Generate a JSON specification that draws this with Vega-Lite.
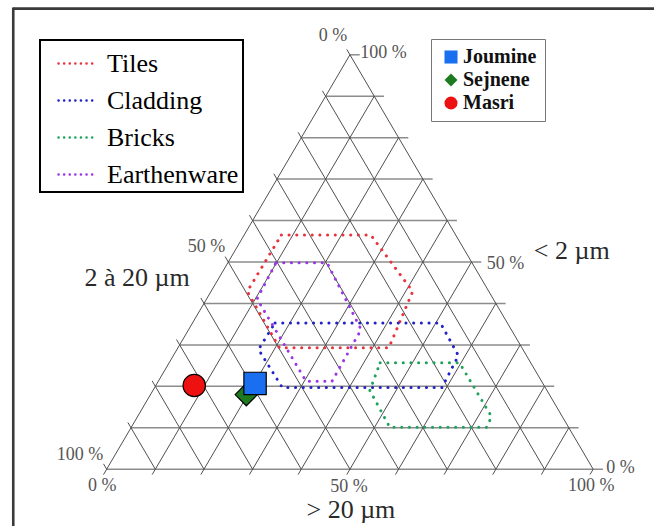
{
  "$schema": "https://vega.github.io/schema/vega-lite/v6.json",
  "width": 656,
  "height": 528,
  "padding": 0,
  "autosize": {"type": "fit", "contains": "padding"},
  "background": "white",
  "config": {"view": {"stroke": null}},
  "datasets": {
    "frame": [
      {"x": -19.2, "y": 111.13, "x2": 112.5, "y2": 111.13},
      {"x": -19.2, "y": 111.4, "x2": -19.2, "y2": -13.7}
    ],
    "grid": [
      {"fam": "h", "x": 0, "y": 0, "x2": 102, "y2": 0},
      {"fam": "h", "x": 5, "y": 10, "x2": 97, "y2": 10},
      {"fam": "h", "x": 10, "y": 20, "x2": 92, "y2": 20},
      {"fam": "h", "x": 15, "y": 30, "x2": 87, "y2": 30},
      {"fam": "h", "x": 20, "y": 40, "x2": 82, "y2": 40},
      {"fam": "h", "x": 25, "y": 50, "x2": 77, "y2": 50},
      {"fam": "h", "x": 30, "y": 60, "x2": 72, "y2": 60},
      {"fam": "h", "x": 35, "y": 70, "x2": 67, "y2": 70},
      {"fam": "h", "x": 40, "y": 80, "x2": 62, "y2": 80},
      {"fam": "h", "x": 45, "y": 90, "x2": 57, "y2": 90},
      {"fam": "h", "x": 50, "y": 100, "x2": 52, "y2": 100},
      {"fam": "l", "x": -0.65, "y": -1.3, "x2": 50, "y2": 100},
      {"fam": "l", "x": 9.35, "y": -1.3, "x2": 55, "y2": 90},
      {"fam": "l", "x": 19.35, "y": -1.3, "x2": 60, "y2": 80},
      {"fam": "l", "x": 29.35, "y": -1.3, "x2": 65, "y2": 70},
      {"fam": "l", "x": 39.35, "y": -1.3, "x2": 70, "y2": 60},
      {"fam": "l", "x": 49.35, "y": -1.3, "x2": 75, "y2": 50},
      {"fam": "l", "x": 59.35, "y": -1.3, "x2": 80, "y2": 40},
      {"fam": "l", "x": 69.35, "y": -1.3, "x2": 85, "y2": 30},
      {"fam": "l", "x": 79.35, "y": -1.3, "x2": 90, "y2": 20},
      {"fam": "l", "x": 89.35, "y": -1.3, "x2": 95, "y2": 10},
      {"fam": "l", "x": 99.35, "y": -1.3, "x2": 100, "y2": 0},
      {"fam": "r", "x": 0, "y": 0, "x2": -0.65, "y2": 1.3},
      {"fam": "r", "x": 10, "y": 0, "x2": 4.35, "y2": 11.3},
      {"fam": "r", "x": 20, "y": 0, "x2": 9.35, "y2": 21.3},
      {"fam": "r", "x": 30, "y": 0, "x2": 14.35, "y2": 31.3},
      {"fam": "r", "x": 40, "y": 0, "x2": 19.35, "y2": 41.3},
      {"fam": "r", "x": 50, "y": 0, "x2": 24.35, "y2": 51.3},
      {"fam": "r", "x": 60, "y": 0, "x2": 29.35, "y2": 61.3},
      {"fam": "r", "x": 70, "y": 0, "x2": 34.35, "y2": 71.3},
      {"fam": "r", "x": 80, "y": 0, "x2": 39.35, "y2": 81.3},
      {"fam": "r", "x": 90, "y": 0, "x2": 44.35, "y2": 91.3},
      {"fam": "r", "x": 100, "y": 0, "x2": 49.35, "y2": 101.3}
    ],
    "zones": [
      {"zone": "Tiles", "i": 0, "x": 35.9, "y": 56.5},
      {"zone": "Tiles", "i": 1, "x": 54.3, "y": 56.5},
      {"zone": "Tiles", "i": 2, "x": 62.9, "y": 42.9},
      {"zone": "Tiles", "i": 3, "x": 58.0, "y": 29.3},
      {"zone": "Tiles", "i": 4, "x": 35.5, "y": 29.3},
      {"zone": "Tiles", "i": 5, "x": 28.9, "y": 42.9},
      {"zone": "Tiles", "i": 6, "x": 35.9, "y": 56.5},
      {"zone": "Cladding", "i": 0, "x": 34.6, "y": 35.3},
      {"zone": "Cladding", "i": 1, "x": 68.6, "y": 35.3},
      {"zone": "Cladding", "i": 2, "x": 72.3, "y": 27.4},
      {"zone": "Cladding", "i": 3, "x": 68.9, "y": 19.7},
      {"zone": "Cladding", "i": 4, "x": 36.1, "y": 19.7},
      {"zone": "Cladding", "i": 5, "x": 31.2, "y": 28.9},
      {"zone": "Cladding", "i": 6, "x": 34.6, "y": 35.3},
      {"zone": "Bricks", "i": 0, "x": 56.2, "y": 25.7},
      {"zone": "Bricks", "i": 1, "x": 72.5, "y": 25.7},
      {"zone": "Bricks", "i": 2, "x": 79.1, "y": 12.7},
      {"zone": "Bricks", "i": 3, "x": 78.1, "y": 10.1},
      {"zone": "Bricks", "i": 4, "x": 58.2, "y": 10.1},
      {"zone": "Bricks", "i": 5, "x": 54.1, "y": 19.0},
      {"zone": "Bricks", "i": 6, "x": 56.2, "y": 25.7},
      {"zone": "Earthenware", "i": 0, "x": 34.8, "y": 49.8},
      {"zone": "Earthenware", "i": 1, "x": 45.3, "y": 49.8},
      {"zone": "Earthenware", "i": 2, "x": 52.3, "y": 33.7},
      {"zone": "Earthenware", "i": 3, "x": 46.3, "y": 21.2},
      {"zone": "Earthenware", "i": 4, "x": 41.0, "y": 21.2},
      {"zone": "Earthenware", "i": 5, "x": 30.9, "y": 41.1},
      {"zone": "Earthenware", "i": 6, "x": 34.8, "y": 49.8}
    ],
    "pcts": [
      {"text": "0 %", "x": 46.5, "y": 104.6},
      {"text": "100 %", "x": 56.9, "y": 100.5},
      {"text": "50 %", "x": 20.5, "y": 53.6},
      {"text": "50 %", "x": 82.0, "y": 49.5},
      {"text": "100 %", "x": -5.5, "y": 3.4},
      {"text": "0 %", "x": -0.9, "y": -4.1},
      {"text": "50 %", "x": 49.8, "y": -4.4},
      {"text": "100 %", "x": 99.6, "y": -4.1},
      {"text": "0 %", "x": 105.6, "y": 0.2}
    ],
    "titles": [
      {"text": "< 2 µm", "x": 95.6, "y": 52.6},
      {"text": "2 à 20 µm", "x": 6.25, "y": 46.2},
      {"text": "> 20 µm", "x": 50.2, "y": -9.9}
    ],
    "samples": [
      {"site": "Masri", "x": 18.0, "y": 20.2},
      {"site": "Sejnene", "x": 28.7, "y": 18.0},
      {"site": "Joumine", "x": 30.5, "y": 20.7}
    ]
  },
  "encoding": {
    "x": {"field": "x", "type": "quantitative", "scale": {"domain": [-21.926, 112.5], "nice": false, "zero": false}, "axis": null},
    "y": {"field": "y", "type": "quantitative", "scale": {"domain": [-13.702, 113.221], "nice": false, "zero": false}, "axis": null}
  },
  "layer": [
    {
      "data": {"name": "frame"},
      "mark": {"type": "rule", "color": "#3a3a3a", "strokeWidth": 2.6},
      "encoding": {"x2": {"field": "x2"}, "y2": {"field": "y2"}}
    },
    {
      "data": {"name": "grid"},
      "transform": [{"filter": "datum.fam == 'h'"}],
      "mark": {"type": "rule", "color": "#8c8c8c", "strokeWidth": 1.5},
      "encoding": {"x2": {"field": "x2"}, "y2": {"field": "y2"}}
    },
    {
      "data": {"name": "grid"},
      "transform": [{"filter": "datum.fam != 'h'"}],
      "mark": {"type": "rule", "color": "#505050", "strokeWidth": 1},
      "encoding": {"x2": {"field": "x2"}, "y2": {"field": "y2"}}
    },
    {
      "data": {"name": "zones"},
      "mark": {"type": "line", "strokeWidth": 3, "strokeDash": [0.1, 7.6], "strokeCap": "round"},
      "encoding": {
        "stroke": {
          "field": "zone", "type": "nominal",
          "scale": {"domain": ["Tiles", "Cladding", "Bricks", "Earthenware"], "range": ["#e8323c", "#2222c8", "#1fa35c", "#9b35e8"]},
          "legend": {
            "title": null, "orient": "none", "legendX": 40, "legendY": 40, "padding": 4,
            "strokeColor": "#000", "fillColor": "white",
            "symbolType": "stroke", "symbolSize": 1296, "symbolStrokeWidth": 2.5, "symbolDash": [0.1, 5.5],
            "symbolOffset": 13, "labelOffset": 11,
            "labelExpr": "datum.label + '\u00a0\u00a0\u00a0\u00a0'",
            "labelFont": "Liberation Serif", "labelFontSize": 26, "labelColor": "#000", "labelLimit": 400,
            "rowPadding": 4,
            "encode": {"symbols": {"update": {"strokeCap": {"value": "round"}}}, "legend": {"update": {"strokeWidth": {"value": 2}}}}
          }
        },
        "order": {"field": "i", "type": "quantitative"}
      }
    },
    {
      "data": {"name": "pcts"},
      "mark": {"type": "text", "font": "Liberation Serif", "fontSize": 18, "color": "#555", "align": "center", "baseline": "middle"},
      "encoding": {"text": {"field": "text"}}
    },
    {
      "data": {"name": "titles"},
      "mark": {"type": "text", "font": "Liberation Serif", "fontSize": 26, "color": "#2a2a2a", "align": "center", "baseline": "middle"},
      "encoding": {"text": {"field": "text"}}
    },
    {
      "data": {"name": "samples"},
      "mark": {"type": "point", "filled": true, "size": 500, "stroke": "#000", "strokeWidth": 1.2, "opacity": 1},
      "encoding": {
        "fill": {
          "field": "site", "type": "nominal",
          "scale": {"domain": ["Joumine", "Sejnene", "Masri"], "range": ["#1a6ef0", "#1e7a1e", "#ee1111"]},
          "legend": {
            "title": null, "orient": "none", "legendX": 431, "legendY": 39, "padding": 8,
            "strokeColor": "#777", "fillColor": "white",
            "symbolSize": 170, "symbolStrokeColor": "#000", "symbolStrokeWidth": 1,
            "symbolOffset": 2, "labelOffset": 2,
            "labelFont": "Liberation Serif", "labelFontSize": 20, "labelFontWeight": "bold", "labelColor": "#111",
            "rowPadding": 3
          }
        },
        "shape": {
          "field": "site", "type": "nominal",
          "scale": {"domain": ["Joumine", "Sejnene", "Masri"], "range": ["square", "diamond", "circle"]},
          "legend": {
            "title": null, "orient": "none", "legendX": 431, "legendY": 39, "padding": 8,
            "strokeColor": "#777", "fillColor": "white",
            "symbolSize": 170, "symbolStrokeColor": "#000", "symbolStrokeWidth": 1,
            "symbolOffset": 2, "labelOffset": 2,
            "labelFont": "Liberation Serif", "labelFontSize": 20, "labelFontWeight": "bold", "labelColor": "#111",
            "rowPadding": 3
          }
        }
      }
    }
  ]
}
